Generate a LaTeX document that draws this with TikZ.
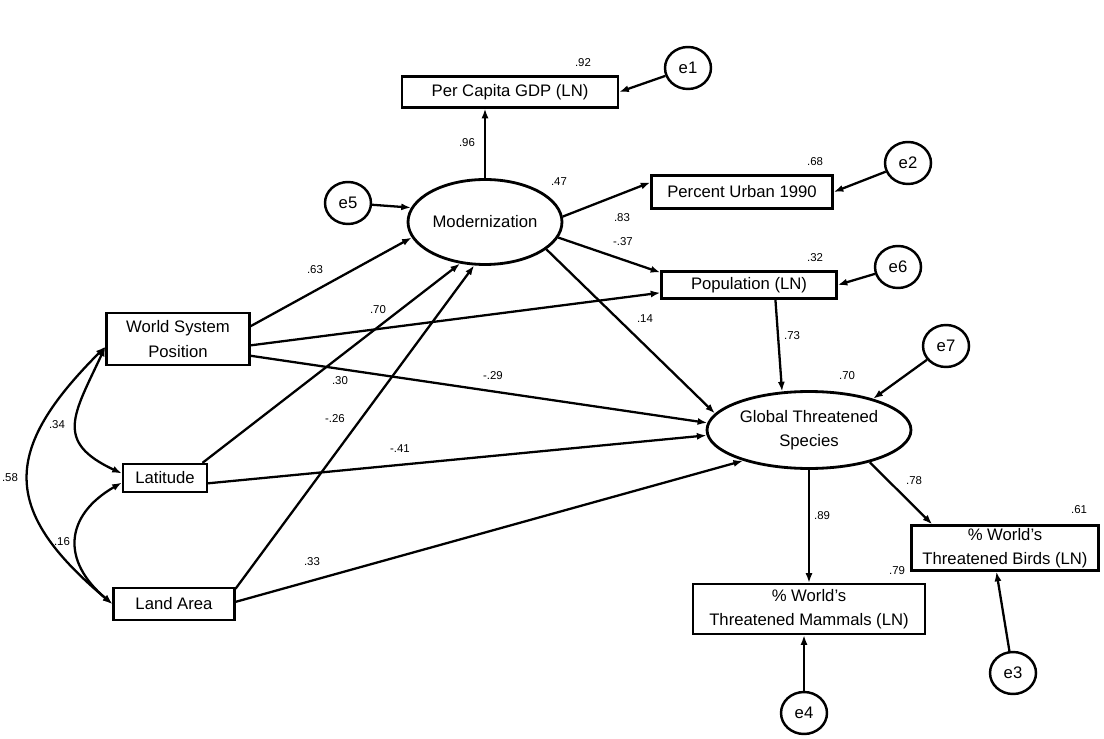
\documentclass[tikz,border=0pt]{standalone}
\usepackage{fontspec}
\setmainfont{Liberation Sans}
\usetikzlibrary{arrows.meta,shapes.geometric}

\begin{document}
\begin{tikzpicture}[x=0.02cm, y=-0.02cm,
    every node/.style={font=\fontsize{9.5}{14}\selectfont},
    obs/.style={draw, line width=1.3pt, inner sep=0pt, align=center},
    latent/.style={draw, ellipse, line width=1.6pt, inner sep=0pt, align=center},
    err/.style={draw, ellipse, line width=1.4pt, minimum width=0.92cm,
        minimum height=0.84cm, inner sep=0pt},
    coef/.style={font=\fontsize{6.5}{8}\selectfont, inner sep=0pt},
    arr/.style={line width=1.3pt, -{Latex[length=5.5pt,width=4pt]}},
    dblarr/.style={line width=1.3pt,
        {Latex[length=5.5pt,width=4pt]}-{Latex[length=5.5pt,width=4pt]}}]
    \path[use as bounding box, fill=white] (0,0) rectangle (1104,739);

    % observed variables
    \node[obs, minimum width=4.32cm, minimum height=0.62cm] (gdp) at (510,92) {Per Capita GDP (LN)};
    \node[obs, minimum width=3.62cm, minimum height=0.66cm] (urban) at (742,192) {Percent Urban 1990};
    \node[obs, minimum width=3.5cm, minimum height=0.54cm] (pop) at (749,285) {Population (LN)};
    \node[obs, minimum width=2.86cm, minimum height=1.04cm] (wsp) at (178,339) {World System\\Position};
    \node[obs, minimum width=1.68cm, minimum height=0.56cm] (lati) at (165,478) {Latitude};
    \node[obs, minimum width=2.42cm, minimum height=0.64cm] (land) at (174,604) {Land Area};
    \node[obs, minimum width=3.74cm, minimum height=0.9cm] (birds) at (1005,548) {\% World's\\Threatened Birds (LN)};
    \node[obs, minimum width=4.64cm, minimum height=1.0cm] (mammals) at (809,609) {\% World's\\Threatened Mammals (LN)};

    % latent variables
    \node[latent, minimum width=3.08cm, minimum height=1.7cm] (modern) at (485,222) {Modernization};
    \node[latent, minimum width=4.08cm, minimum height=1.54cm] (species) at (809,430) {Global Threatened\\Species};

    % error terms
    \node[err] (e1) at (688,68) {e1};
    \node[err] (e2) at (908,163) {e2};
    \node[err] (e3) at (1013,673) {e3};
    \node[err] (e4) at (804,713) {e4};
    \node[err] (e5) at (348,203) {e5};
    \node[err] (e6) at (898,267) {e6};
    \node[err] (e7) at (946,346) {e7};

    \draw[arr] (e1) -- (gdp.east);
    \draw[arr] (e2) -- (urban.east);
    \draw[arr] (e3) -- (birds.250);
    \draw[arr] (e4) -- (e4 |- mammals.south);
    \draw[arr] (e5) -- (modern.169);
    \draw[arr] (e6) -- (pop.east);
    \draw[arr] (e7) -- (species.26);

    \draw[arr] (modern.north) -- (modern.north |- gdp.south);
    \draw[arr] (modern.4) -- (urban.174);
    \draw[arr] (modern.-12) -- (pop.172);
    \draw[arr] (modern.-24) -- (species.170);
    \draw[arr] (wsp.10) -- (modern.192);
    \draw[arr] (wsp.-5) -- (pop.185);
    \draw[arr] (wsp.-13) -- (species.176);
    \draw[arr] (lati.22) -- (modern.239);
    \draw[arr] (lati.-7) -- (species.183);
    \draw[arr] (land.14) -- (modern.256);
    \draw[arr] (land.2) -- (species.205);
    \draw[arr] (pop.-29) -- (species.125);
    \draw[arr] (species.south) -- (mammals.north);
    \draw[arr] (species.-28) -- (birds.162);

    % correlations
    \draw[dblarr] (wsp.186) to[out=245, in=155, looseness=1.5] (lati.174);
    \draw[dblarr] (lati.186) to[out=210, in=140, looseness=1.4] (land.west);
    \draw[dblarr] (wsp.186) to[out=225, in=140, looseness=1.45] (land.west);

    % estimates
    \node[coef] (c92) at (583,63) {.92};
    \node[coef] (c96) at (467,143) {.96};
    \node[coef] (c47) at (559,182) {.47};
    \node[coef] (c68) at (815,162) {.68};
    \node[coef] (c83) at (622,218) {.83};
    \node[coef] (c37) at (623,242) {-.37};
    \node[coef] (c32) at (815,258) {.32};
    \node[coef] (c63) at (315,270) {.63};
    \node[coef] (c70a) at (378,310) {.70};
    \node[coef] (c30) at (340,381) {.30};
    \node[coef] (c26) at (335,419) {-.26};
    \node[coef] (c29) at (493,376) {-.29};
    \node[coef] (c41) at (400,449) {-.41};
    \node[coef] (c33) at (312,562) {.33};
    \node[coef] (c14) at (645,319) {.14};
    \node[coef] (c73) at (792,336) {.73};
    \node[coef] (c70b) at (847,376) {.70};
    \node[coef] (c78) at (914,481) {.78};
    \node[coef] (c61) at (1079,510) {.61};
    \node[coef] (c89) at (822,516) {.89};
    \node[coef] (c79) at (897,571) {.79};
    \node[coef] (c34) at (57,425) {.34};
    \node[coef] (c58) at (10,478) {.58};
    \node[coef] (c16) at (62,542) {.16};
\end{tikzpicture}
\end{document}
